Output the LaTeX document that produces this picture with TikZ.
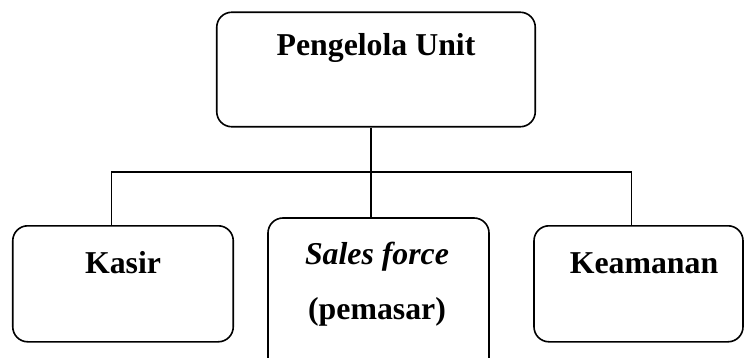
\documentclass[tikz,border=0pt]{standalone}
\usepackage{fontspec}
\setmainfont{Liberation Serif}
\begin{document}
\begin{tikzpicture}[x=1pt,y=-1pt,
  box/.style={draw=black, line width=1.6pt, rounded corners=15pt, fill=white, inner sep=0pt},
  lbl/.style={font=\fontsize{31.8}{38}\selectfont\bfseries, inner sep=0pt},
  conn/.style={draw=black, line width=1.5pt}]
\useasboundingbox (0,0) rectangle (744,358);
\clip (0,0) rectangle (744,358);
\fill[white] (0,0) rectangle (744,358);
% boxes
\node[box, minimum width=318.5pt, minimum height=114.5pt] (top) at (376,69.5) {};
\node[box, minimum width=220.5pt, minimum height=116pt] (kasir) at (123,283.8) {};
\node[box, minimum width=221pt, minimum height=160pt] (sales) at (378.5,298) {};
\node[box, minimum width=209pt, minimum height=116pt] (keam) at (638.5,283.8) {};
% labels
\node[lbl] (ttop) at (376,48) {Pengelola Unit};
\node[lbl] (tkasir) at (123,263) {Kasir};
\node[lbl] (tsales1) at (377,257) {\itshape Sales force};
\node[lbl] (tsales2) at (377,312) {(pemasar)};
\node[lbl] (tkeam) at (644,263) {Keamanan};
% connectors
\coordinate (jm) at (371,172);
\coordinate (jl) at (111.7,172);
\coordinate (jr) at (631.7,172);
\draw[conn] (jm |- top.south) -- (jm |- sales.north);
\draw[conn] (jl |- kasir.north) -- (jl) -- (jr) -- (jr |- keam.north);
\end{tikzpicture}
\end{document}
